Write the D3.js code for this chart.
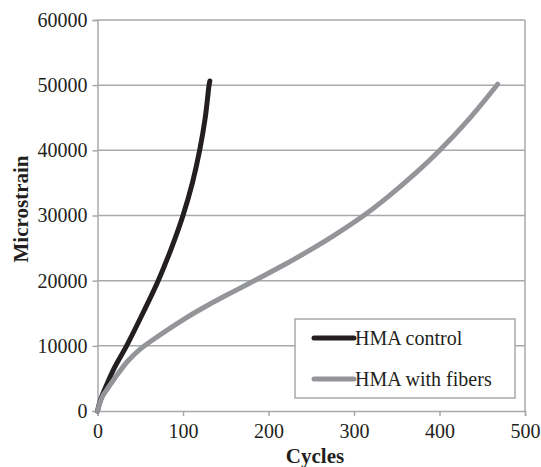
<!DOCTYPE html>
<html>
<head>
<meta charset="utf-8">
<script src="https://cdn.jsdelivr.net/npm/d3@7"></script>
<style>
  html, body { margin: 0; padding: 0; background: #fff; }
  svg, svg text { font-family: "Liberation Serif", "Times New Roman", Times, serif; }
</style>
</head>
<body>
<svg id="chart" width="541" height="467"></svg>
<script>
// ---- data ----
const controlCycles = [0, 3, 9, 20, 34, 53, 71, 86.5, 100, 111, 119.5, 126, 130.5, 131.4];
const controlStrain = [0, 1500, 3500, 6700, 10000, 15000, 20000, 25000, 30000, 35000, 40000, 45000, 50000, 50650];
const fiberCycles = [0, 5, 10, 20, 35, 50, 70, 100, 130, 160, 190, 220, 250, 280, 311, 340, 370, 400, 435, 468];
const fiberStrain = [0, 2000, 3100, 5000, 7600, 9500, 11400, 14000, 16300, 18400, 20450, 22550, 24800, 27230, 29960, 32900, 36260, 39980, 44880, 50150];
const xTicks = [0, 100, 200, 300, 400, 500];
const yTicks = [0, 10000, 20000, 30000, 40000, 50000, 60000];
const seriesNames = ["HMA control", "HMA with fibers"];
const seriesColors = ["#231f20", "#939598"];

const series = [
  controlCycles.map((c, i) => [c, controlStrain[i]]),
  fiberCycles.map((c, i) => [c, fiberStrain[i]])
];

// ---- layout ----
const svg = d3.select("#chart");
const pLeft = 97.5, pRight = 525, pTop = 20, pBottom = 411;
const x = d3.scaleLinear().domain([0, 500]).range([pLeft, pRight]);
const y = d3.scaleLinear().domain([0, 60000]).range([pBottom, pTop]);
const gridColor = "#a7a9ac";
const textColor = "#231f20";
const serif = "'Liberation Serif', 'Times New Roman', serif";

// gridlines
svg.append("g").selectAll("line").data(yTicks.filter(d => d > 0)).join("line")
  .attr("x1", pLeft).attr("x2", pRight)
  .attr("y1", d => y(d)).attr("y2", d => y(d))
  .attr("stroke", gridColor).attr("stroke-width", 1.5);

// right border
svg.append("line").attr("x1", pRight).attr("x2", pRight).attr("y1", pTop).attr("y2", pBottom)
  .attr("stroke", gridColor).attr("stroke-width", 1.5);

// axes
const yAxis = d3.axisLeft(y).tickValues(yTicks).tickSize(5).tickPadding(5).tickFormat(d3.format("d"));
const xAxis = d3.axisBottom(x).tickValues(xTicks).tickSize(5).tickPadding(8).tickFormat(d3.format("d"));

const gy = svg.append("g").attr("transform", `translate(${pLeft},0)`).call(yAxis);
const gx = svg.append("g").attr("transform", `translate(0,${pBottom})`).call(xAxis);
[gx, gy].forEach(g => {
  g.attr("font-family", serif).attr("font-size", 20);
  g.select(".domain").attr("stroke", gridColor).attr("stroke-width", 1.5);
  g.selectAll(".tick line").attr("stroke", gridColor).attr("stroke-width", 1.5);
  g.selectAll(".tick text").attr("fill", textColor);
});

// lines
const line = d3.line().x(d => x(d[0])).y(d => y(d[1])).curve(d3.curveCatmullRom.alpha(0.5));
svg.append("g").selectAll("path").data(series).join("path")
  .attr("d", line)
  .attr("fill", "none")
  .attr("stroke", (d, i) => seriesColors[i])
  .attr("stroke-width", 5)
  .attr("stroke-linecap", "round")
  .attr("stroke-linejoin", "round");

// axis titles
svg.append("text").attr("x", 315).attr("y", 463).attr("text-anchor", "middle")
  .attr("fill", textColor).attr("font-family", serif).attr("font-size", 21).attr("font-weight", "bold").text("Cycles");
svg.append("text").attr("transform", "translate(28,209) rotate(-90)").attr("text-anchor", "middle")
  .attr("fill", textColor).attr("font-family", serif).attr("font-size", 21).attr("font-weight", "bold").text("Microstrain");

// legend
const lg = svg.append("g");
lg.append("rect").attr("x", 295).attr("y", 319).attr("width", 220).attr("height", 79)
  .attr("fill", "#fff").attr("stroke", gridColor).attr("stroke-width", 1.5);
const items = lg.selectAll("g.item").data(seriesNames).join("g").attr("class", "item")
  .attr("transform", (d, i) => `translate(0,${338 + i * 41})`);
items.append("line").attr("x1", 314).attr("x2", 354).attr("y1", 0).attr("y2", 0)
  .attr("stroke", (d, i) => seriesColors[i]).attr("stroke-width", 5).attr("stroke-linecap", "round");
items.append("text").attr("x", 355).attr("y", 7).attr("fill", textColor)
  .attr("font-family", serif).attr("font-size", 20).text(d => d);
</script>
</body>
</html>
